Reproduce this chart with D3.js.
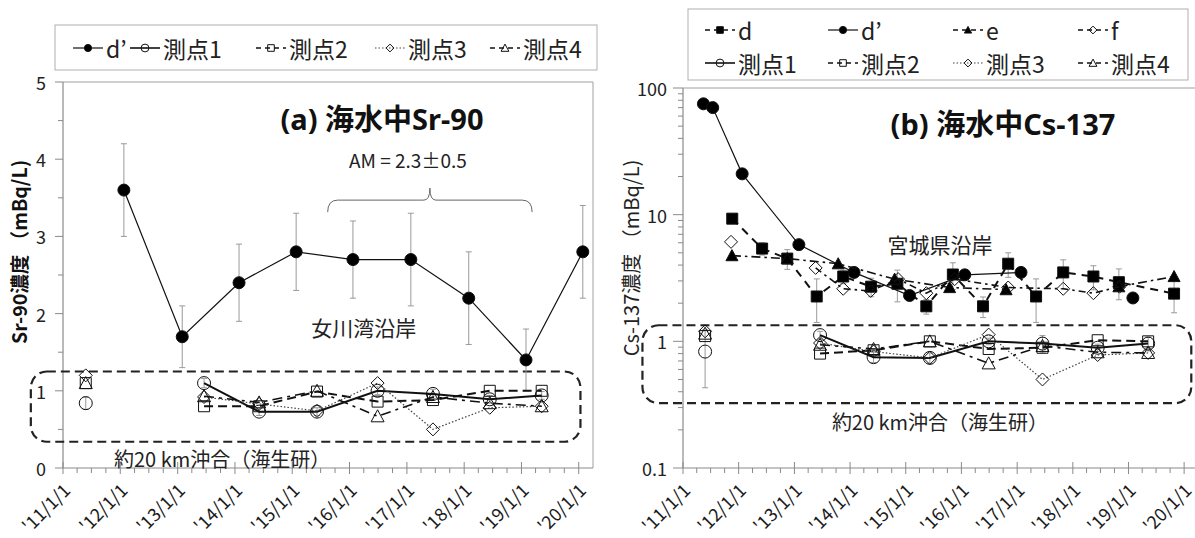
<!DOCTYPE html>
<html>
<head>
<meta charset="utf-8">
<script src="https://cdn.jsdelivr.net/npm/d3@7"></script>
<style>
  body { margin: 0; background: #fff; }
  svg { font-family: "Noto Sans CJK JP", "Noto Sans", sans-serif; }
  .title { font-family: "Noto Sans", "Noto Sans CJK JP", sans-serif; }
</style>
</head>
<body>
<svg id="chart" width="1195" height="538"></svg>
<script>
// ---------------- data ----------------
const tickDates  = ["2011-01-01","2012-01-01","2013-01-01","2014-01-01","2015-01-01",
                    "2016-01-01","2017-01-01","2018-01-01","2019-01-01","2020-01-01"];
const tickLabels = ["'11/1/1","'12/1/1","'13/1/1","'14/1/1","'15/1/1",
                    "'16/1/1","'17/1/1","'18/1/1","'19/1/1","'20/1/1"];

// Sr-90, Onagawa Bay coast (station d')
const srDpDates  = ["2012-01-24","2013-01-30","2014-01-27","2015-01-26","2016-01-23",
                    "2017-01-26","2018-01-30","2019-01-30","2020-01-27"];
const srDpValues = [3.6, 1.7, 2.4, 2.8, 2.7, 2.7, 2.2, 1.4, 2.8];
const srDpErr    = [0.6, 0.4, 0.5, 0.5, 0.5, 0.6, 0.6, 0.4, 0.6];

// offshore survey dates (~20 km, stations 1-4)
const offDates = ["2011-05-26","2013-06-18","2014-06-04","2015-06-08","2016-06-28",
                  "2017-06-16","2018-06-13","2019-05-10"];
const srSt1    = [0.84, 1.10, 0.73, 0.73, 1.00, 0.96, 0.89, 0.94];
const srSt1Err = [0.08, 0.06, 0.05, 0.05, 0.05, 0.06, 0.05, 0.05];
const srSt2    = [1.10, 0.80, 0.80, 0.99, 0.86, 0.88, 1.00, 1.00];
const srSt3    = [1.20, 0.92, 0.83, 0.74, 1.10, 0.50, 0.78, 0.80];
const srSt4    = [1.10, 0.93, 0.85, 1.00, 0.67, 0.92, 0.84, 0.80];

// Cs-137, Miyagi coast
const csDDates  = ["2011-11-20","2012-06-03","2012-11-15","2013-05-27","2013-11-17",
                   "2014-05-19","2014-11-07","2015-05-16","2015-11-06","2016-05-22",
                   "2016-11-03","2017-05-05","2017-10-30","2018-05-16","2018-10-30",
                   "2019-10-27"];
const csDValues = [9.3, 5.4, 4.5, 2.26, 3.25, 2.7, 2.85, 1.89, 3.37, 1.89,
                   4.1, 2.26, 3.5, 3.25, 2.93, 2.38];
const csDErr    = [null, 0.6, 0.8, 0.85, 0.4, 0.45, 0.8, 0.25, 0.8, 0.35,
                   0.9, 0.85, 0.9, 0.7, 0.8, 0.7];

const csDpDates  = ["2011-05-15","2011-07-15","2012-01-24","2013-01-30","2014-01-27",
                    "2015-01-26","2016-01-23","2017-01-26","2019-01-30"];
const csDpValues = [75, 70, 21, 5.8, 3.5, 2.3, 3.35, 3.5, 2.2];

const csEDates  = ["2011-11-18","2012-11-15","2013-10-15","2014-10-20","2015-10-16",
                   "2016-10-20","2018-10-30","2019-10-27"];
const csEValues = [4.75, 4.5, 4.1, 3.1, 2.66, 2.56, 2.7, 3.25];

const csFDates  = ["2011-11-12","2013-05-20","2013-11-17","2014-05-16","2014-11-12",
                   "2015-05-16","2015-11-18","2016-11-03","2017-10-30","2018-05-16",
                   "2018-11-03"];
const csFValues = [6.1, 3.8, 2.6, 2.5, 3.1, 2.4, 3.1, 2.66, 2.6, 2.4, 2.7];

const csSt1    = [0.83, 1.12, 0.75, 0.74, 1.00, 0.96, 0.89, 0.96];
const csSt1Err = [0.40, 0.08, 0.07, 0.07, 0.06, 0.15, 0.06, 0.12];
const csSt2    = [1.10, 0.80, 0.85, 1.00, 0.87, 0.89, 1.02, 1.00];
const csSt3    = [1.20, 0.97, 0.83, 0.74, 1.13, 0.50, 0.78, 0.81];
const csSt4    = [1.15, 0.94, 0.87, 1.00, 0.67, 0.92, 0.82, 0.81];

// AM annotation over the 2015-2019 d' samples
const amDates = ["2015-08-15","2019-03-10"];
const amLabel = "AM = 2.3\u00b10.5";

// ---------------- helpers ----------------
const parse = d3.timeParse("%Y-%m-%d");
const svg = d3.select("#chart");
const GAP_DAYS = 548; // samples further apart than this are not joined

const STYLE = {
  dp:  { shape: "circle",   fill: "#000", r: 6,   line: "#111", width: 1.2, dash: null },
  d:   { shape: "square",   fill: "#000", r: 5.5, line: "#111", width: 2,   dash: "8,6" },
  e:   { shape: "triangle", fill: "#000", r: 6,   line: "#111", width: 1.6, dash: "9,4,2.5,4" },
  f:   { shape: "diamond",  fill: "none", r: 6.5, line: "#111", width: 1.6, dash: "7,4,2.5,4" },
  st1: { shape: "circle",   fill: "none", r: 6.5, line: "#111", width: 2,   dash: null },
  st2: { shape: "square",   fill: "none", r: 5.5, line: "#111", width: 2,   dash: "9,5" },
  st3: { shape: "diamond",  fill: "none", r: 6.5, line: "#444", width: 1.2, dash: "1.5,2" },
  st4: { shape: "triangle", fill: "none", r: 6.5, line: "#111", width: 1.6, dash: "10,5,3,5" }
};

function markerPath(shape, r) {
  switch (shape) {
    case "circle":
      return `M${-r},0a${r},${r} 0 1,0 ${2*r},0a${r},${r} 0 1,0 ${-2*r},0Z`;
    case "square":
      return `M${-r},${-r}h${2*r}v${2*r}h${-2*r}Z`;
    case "triangle":
      return `M0,${-r}L${r},${r*0.85}L${-r},${r*0.85}Z`;
    case "diamond":
      return `M0,${-r}L${r},0L0,${r}L${-r},0Z`;
  }
}

function drawSeries(g, x, y, dates, values, st, errs) {
  const pts = dates.map((d, i) => ({ t: parse(d), v: values[i], e: errs ? errs[i] : null }));
  // error bars
  pts.filter(p => p.e != null).forEach(p => {
    const px = x(p.t), y0 = y(Math.max(p.v - p.e, 1e-3)), y1 = y(p.v + p.e);
    const eb = g.append("g").attr("stroke", "#9a9a9a").attr("stroke-width", 1);
    eb.append("line").attr("x1", px).attr("x2", px).attr("y1", y0).attr("y2", y1);
    eb.append("line").attr("x1", px - 3).attr("x2", px + 3).attr("y1", y0).attr("y2", y0);
    eb.append("line").attr("x1", px - 3).attr("x2", px + 3).attr("y1", y1).attr("y2", y1);
  });
  // connected segments
  const segs = [];
  pts.forEach((p, i) => {
    if (i === 0 || (p.t - pts[i - 1].t) / 864e5 > GAP_DAYS) segs.push([p]);
    else segs[segs.length - 1].push(p);
  });
  const line = d3.line().x(p => x(p.t)).y(p => y(p.v));
  segs.filter(s => s.length > 1).forEach(s => {
    g.append("path").attr("d", line(s)).attr("fill", "none")
      .attr("stroke", st.line).attr("stroke-width", st.width)
      .attr("stroke-dasharray", st.dash);
  });
  // markers
  g.selectAll(null).data(pts).join("path")
    .attr("transform", p => `translate(${x(p.t)},${y(p.v)})`)
    .attr("d", markerPath(st.shape, st.r))
    .attr("fill", st.fill).attr("stroke", "#111").attr("stroke-width", 1);
}

function legendItem(g, sx, cy, st, label) {
  g.append("line").attr("x1", sx).attr("x2", sx + 30).attr("y1", cy).attr("y2", cy)
    .attr("stroke", st.line).attr("stroke-width", Math.min(st.width, 1.6))
    .attr("stroke-dasharray", st.dash ? (st.dash === "1.5,2" ? "1.5,2" : "5,4") : null);
  g.append("path").attr("transform", `translate(${sx + 15},${cy})`)
    .attr("d", markerPath(st.shape, st.r * 0.6))
    .attr("fill", st.fill === "none" ? "#fff" : st.fill)
    .attr("fill-opacity", st.fill === "none" ? 0 : 1)
    .attr("stroke", "#111").attr("stroke-width", 1);
  g.append("text").attr("x", sx + 33).attr("y", cy).attr("dominant-baseline", "central")
    .attr("font-size", 23).attr("fill", "#222").text(label);
}

function drawTimeAxis(g, x, yBase, xLeft, xRight) {
  g.append("line").attr("x1", xLeft).attr("x2", xRight).attr("y1", yBase).attr("y2", yBase)
    .attr("stroke", "#8a8a8a").attr("stroke-width", 1.2);
  const ticks = tickDates.map(parse);
  ticks.forEach((t, i) => {
    const px = x(t);
    g.append("line").attr("x1", px).attr("x2", px).attr("y1", yBase - 6).attr("y2", yBase + 6)
      .attr("stroke", "#8a8a8a");
    // quarterly minor ticks
    [3, 6, 9].forEach(m => {
      const mx = x(new Date(t.getFullYear(), m, 1));
      if (mx < xRight) g.append("line").attr("x1", mx).attr("x2", mx)
        .attr("y1", yBase).attr("y2", yBase + 5).attr("stroke", "#8a8a8a");
    });
    g.append("text").attr("transform", `translate(${px + 3},${yBase + 18}) rotate(-45)`)
      .attr("text-anchor", "end").attr("dominant-baseline", "central")
      .attr("font-size", 18).attr("fill", "#1a1a1a").text(tickLabels[i]);
  });
}

function dashedBox(g, x0, x1, y0, y1) {
  g.append("rect").attr("x", x0).attr("y", y0).attr("width", x1 - x0).attr("height", y1 - y0)
    .attr("rx", 16).attr("ry", 16).attr("fill", "none").attr("stroke", "#222")
    .attr("stroke-width", 2.2).attr("stroke-dasharray", "9,5");
}

// ---------------- panel (a) Sr-90 ----------------
{
  const L = 63, R = 593, T = 82, B = 468;
  const x = d3.scaleTime().domain([parse("2011-01-01"), parse("2020-04-01")]).range([L, R]);
  const y = d3.scaleLinear().domain([0, 5]).range([B, T]);
  const g = svg.append("g");

  // frame
  g.append("path").attr("d", `M${L},${T}H${R}V${B}`).attr("fill", "none")
    .attr("stroke", "#a0a0a0").attr("stroke-width", 1);
  g.append("line").attr("x1", L).attr("x2", L).attr("y1", T).attr("y2", B)
    .attr("stroke", "#8a8a8a").attr("stroke-width", 1.2);
  d3.range(0, 5.01, 1).forEach(v => {
    g.append("line").attr("x1", L - 8).attr("x2", L).attr("y1", y(v)).attr("y2", y(v)).attr("stroke", "#8a8a8a");
    g.append("text").attr("x", L - 17).attr("y", y(v)).attr("text-anchor", "end")
      .attr("dominant-baseline", "central").attr("font-size", 18).attr("fill", "#222").text(v);
  });
  d3.range(0.5, 5, 1).forEach(v => {
    g.append("line").attr("x1", L - 5).attr("x2", L).attr("y1", y(v)).attr("y2", y(v)).attr("stroke", "#8a8a8a");
  });
  drawTimeAxis(g, x, B, L, R);

  // offshore survey area
  dashedBox(g, x(parse("2010-06-10")), x(parse("2020-01-12")), y(1.25), y(0.34));

  drawSeries(g, x, y, srDpDates, srDpValues, STYLE.dp, srDpErr);
  drawSeries(g, x, y, offDates, srSt1, STYLE.st1, srSt1Err);
  drawSeries(g, x, y, offDates, srSt2, STYLE.st2);
  drawSeries(g, x, y, offDates, srSt3, STYLE.st3);
  drawSeries(g, x, y, offDates, srSt4, STYLE.st4);

  // AM brace
  const bx0 = x(parse(amDates[0])), bx1 = x(parse(amDates[1])), bm = (bx0 + bx1) / 2, by = y(3.47);
  g.append("path")
    .attr("d", `M${bx0},${by + 12}Q${bx0},${by} ${bx0 + 10},${by}H${bm - 6}Q${bm},${by} ${bm},${by - 12}` +
               `Q${bm},${by} ${bm + 6},${by}H${bx1 - 10}Q${bx1},${by} ${bx1},${by + 12}`)
    .attr("fill", "none").attr("stroke", "#666").attr("stroke-width", 1);
  g.append("text").attr("x", bm - 22).attr("y", y(4)).attr("text-anchor", "middle")
    .attr("dominant-baseline", "central").attr("font-size", 19).attr("fill", "#222").text(amLabel);

  g.append("text").attr("class", "title").attr("x", 382).attr("y", 118).attr("text-anchor", "middle")
    .attr("dominant-baseline", "central").attr("font-size", 29).attr("font-weight", "bold")
    .attr("fill", "#111").text("(a) 海水中Sr-90");
  g.append("text").attr("x", x(parse("2016-04-01"))).attr("y", y(1.83)).attr("text-anchor", "middle")
    .attr("dominant-baseline", "central").attr("font-size", 21).attr("fill", "#222").text("女川湾沿岸");
  g.append("text").attr("x", 114).attr("y", 458).attr("dominant-baseline", "central")
    .attr("font-size", 20).attr("fill", "#222").text("約20 km沖合（海生研）");

  g.append("text").attr("transform", "translate(18,252) rotate(-90)")
    .attr("text-anchor", "middle").attr("dominant-baseline", "central")
    .attr("font-size", 19.5).attr("font-weight", "bold").attr("fill", "#111")
    .text("Sr-90濃度 （mBq/L)");

  // legend
  const lg = svg.append("g");
  lg.append("rect").attr("x", 55).attr("y", 25).attr("width", 542).attr("height", 45)
    .attr("fill", "#fff").attr("stroke", "#b0b0b0");
  legendItem(lg, 73, 48, STYLE.dp, "d\u2019");
  legendItem(lg, 130, 48, STYLE.st1, "測点1");
  legendItem(lg, 256, 48, STYLE.st2, "測点2");
  legendItem(lg, 375, 48, STYLE.st3, "測点3");
  legendItem(lg, 490, 48, STYLE.st4, "測点4");
}

// ---------------- panel (b) Cs-137 ----------------
{
  const L = 683, R = 1198, T = 88, B = 468;
  const x = d3.scaleTime().domain([parse("2011-01-01"), parse("2020-04-01")]).range([L, R]);
  const y = d3.scaleLog().domain([0.1, 100]).range([B, T]);
  const g = svg.append("g");

  g.append("path").attr("d", `M${L},${T}H${R}V${B}`).attr("fill", "none")
    .attr("stroke", "#a0a0a0").attr("stroke-width", 1);
  g.append("line").attr("x1", L).attr("x2", L).attr("y1", T).attr("y2", B)
    .attr("stroke", "#8a8a8a").attr("stroke-width", 1.2);
  [0.1, 1, 10, 100].forEach(v => {
    g.append("line").attr("x1", L - 10).attr("x2", L).attr("y1", y(v)).attr("y2", y(v)).attr("stroke", "#8a8a8a");
    g.append("text").attr("x", L - 16).attr("y", y(v)).attr("text-anchor", "end")
      .attr("dominant-baseline", "central").attr("font-size", 18).attr("fill", "#222").text(v);
  });
  [0.1, 1, 10].forEach(dec => d3.range(2, 10).forEach(k => {
    const v = dec * k;
    g.append("line").attr("x1", L - 5).attr("x2", L).attr("y1", y(v)).attr("y2", y(v)).attr("stroke", "#8a8a8a");
  }));
  drawTimeAxis(g, x, B, L, R);

  dashedBox(g, x(parse("2010-04-10")), x(parse("2020-02-17")), y(1.34), y(0.325));

  drawSeries(g, x, y, csDDates, csDValues, STYLE.d, csDErr);
  drawSeries(g, x, y, csDpDates, csDpValues, STYLE.dp);
  drawSeries(g, x, y, csEDates, csEValues, STYLE.e);
  drawSeries(g, x, y, csFDates, csFValues, STYLE.f);
  drawSeries(g, x, y, offDates, csSt1, STYLE.st1, csSt1Err);
  drawSeries(g, x, y, offDates, csSt2, STYLE.st2);
  drawSeries(g, x, y, offDates, csSt3, STYLE.st3);
  drawSeries(g, x, y, offDates, csSt4, STYLE.st4);

  g.append("text").attr("class", "title").attr("x", 1003).attr("y", 123).attr("text-anchor", "middle")
    .attr("dominant-baseline", "central").attr("font-size", 29).attr("font-weight", "bold")
    .attr("fill", "#111").text("(b) 海水中Cs-137");
  g.append("text").attr("x", 940).attr("y", 244).attr("text-anchor", "middle")
    .attr("dominant-baseline", "central").attr("font-size", 21).attr("fill", "#222").text("宮城県沿岸");
  g.append("text").attr("x", 940).attr("y", 421).attr("text-anchor", "middle")
    .attr("dominant-baseline", "central").attr("font-size", 20).attr("fill", "#222").text("約20 km沖合（海生研）");

  g.append("text").attr("transform", "translate(630,258) rotate(-90)")
    .attr("text-anchor", "middle").attr("dominant-baseline", "central")
    .attr("font-size", 20).attr("fill", "#222").text("Cs-137濃度 （mBq/L)");

  const lg = svg.append("g");
  lg.append("rect").attr("x", 688).attr("y", 9).attr("width", 500).attr("height", 71)
    .attr("fill", "#fff").attr("stroke", "#b0b0b0");
  const cols = [705, 828, 953, 1078];
  legendItem(lg, cols[0], 30, STYLE.d, "d");
  legendItem(lg, cols[1], 30, STYLE.dp, "d\u2019");
  legendItem(lg, cols[2], 30, STYLE.e, "e");
  legendItem(lg, cols[3], 30, STYLE.f, "f");
  legendItem(lg, cols[0], 63, STYLE.st1, "測点1");
  legendItem(lg, cols[1], 63, STYLE.st2, "測点2");
  legendItem(lg, cols[2], 63, STYLE.st3, "測点3");
  legendItem(lg, cols[3], 63, STYLE.st4, "測点4");
}
</script>
</body>
</html>
